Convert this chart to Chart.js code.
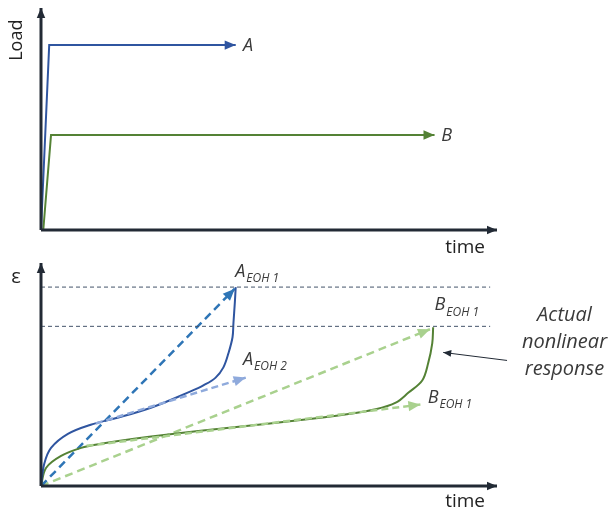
<!DOCTYPE html>
<html>
<head>
<meta charset="utf-8">
<script src="https://cdn.jsdelivr.net/npm/chart.js@4.4.0/dist/chart.umd.min.js"></script>
<style>
  html, body { margin: 0; padding: 0; background: #fff; }
  .panel { position: absolute; left: 0; width: 613px; }
  #top { top: 0; height: 255px; }
  #bottom { top: 255px; height: 256px; }
</style>
</head>
<body>
<div class="panel" id="top"><canvas id="loadChart"></canvas></div>
<div class="panel" id="bottom"><canvas id="strainChart"></canvas></div>
<script>
// both panels use time 0-100 and value 0-100 (axis arrow tips at 100)

// --- top panel: load histories ---
const loadA_t = [0, 1.8, 42.7];
const loadA_v = [0, 83.3, 83.3];
const loadB_t = [0.5, 2.2, 86.3];
const loadB_v = [0, 42.8, 42.8];

// --- bottom panel: strain responses ---
const levelA = 89.2;   // A_EOH 1 limit
const levelB = 71.6;   // B_EOH 1 limit
const levelEnd = 98.5;

const curveA_t = [0, 0.7, 2.2, 5.9, 10.9, 16.8, 24.1, 32.8, 35.7, 38.3, 40.0, 41.1, 42.0, 42.2, 42.5, 42.7];
const curveA_v = [0, 9.9, 17.1, 23.4, 27.5, 30.6, 35.1, 42.4, 45.2, 48.6, 53.2, 59.5, 66.7, 73.0, 82.0, 89.2];
const curveB_t = [0, 1.1, 4.4, 8.8, 13.1, 20.4, 35.0, 49.7, 61.3, 67.8, 73.4, 77.8, 80.6, 83.6, 84.9, 85.8, 86.0];
const curveB_v = [0, 8.1, 13.5, 17.1, 18.9, 21.2, 24.8, 27.9, 30.6, 32.4, 34.4, 37.4, 41.9, 47.3, 55.0, 64.0, 71.2];

const linA1_t = [0, 42.5];   const linA1_v = [0, 88.5];
const linA2_t = [12, 44.9];  const linA2_v = [28, 48.6];
const linB1_t = [0, 85.3];   const linB1_v = [0, 70.3];
const linB2_t = [10, 83.2];  const linB2_v = [18, 36.5];

const note_t = [102.2, 88.2];
const note_v = [56.3, 59.9];

const pts = (xs, ys) => xs.map((x, i) => ({ x, y: ys[i] }));

const AXIS = '#222a35';
const TEXT = '#3a3a3a';

// arrow heads at the last point of a dataset
const arrowHeads = {
  id: 'arrowHeads',
  afterDatasetsDraw(chart) {
    const ctx = chart.ctx;
    chart.data.datasets.forEach((ds, i) => {
      if (!ds.arrow) return;
      const p = chart.getDatasetMeta(i).data;
      const p1 = p[p.length - 2], p2 = p[p.length - 1];
      const a = Math.atan2(p2.y - p1.y, p2.x - p1.x);
      const L = ds.arrow, W = ds.arrow * 0.85;
      ctx.save();
      ctx.translate(p2.x, p2.y);
      ctx.rotate(a);
      ctx.beginPath();
      ctx.moveTo(0, 0);
      ctx.lineTo(-L, -W / 2);
      ctx.lineTo(-L, W / 2);
      ctx.closePath();
      ctx.fillStyle = ds.borderColor;
      ctx.fill();
      ctx.restore();
    });
  }
};

// text placed in data coordinates
const textLabels = {
  id: 'textLabels',
  afterDraw(chart, args, opts) {
    const ctx = chart.ctx;
    const xs = chart.scales.x, ys = chart.scales.y;
    (opts.items || []).forEach(it => {
      const px = xs.getPixelForValue(it.x);
      const py = ys.getPixelForValue(it.y);
      ctx.save();
      ctx.fillStyle = it.color || TEXT;
      ctx.font = it.font;
      ctx.textBaseline = 'middle';
      ctx.textAlign = it.align || 'left';
      ctx.translate(px, py);
      if (it.rotate) ctx.rotate(it.rotate);
      const lines = it.text.split('\n');
      lines.forEach((ln, k) => ctx.fillText(ln, 0, (k - (lines.length - 1) / 2) * (it.lineHeight || 0)));
      if (it.sub) {
        const w = ctx.measureText(it.text).width;
        ctx.font = it.subFont;
        ctx.textAlign = 'left';
        ctx.fillText(it.sub, w + 1, 7);
      }
      ctx.restore();
    });
  }
};

const baseOptions = (items) => ({
  responsive: true,
  maintainAspectRatio: false,
  animation: false,
  layout: { padding: { left: 41, right: 116, top: 8, bottom: 25 } },
  elements: { point: { radius: 0, hoverRadius: 0 } },
  plugins: {
    legend: { display: false },
    tooltip: { enabled: false },
    textLabels: { items }
  },
  scales: {
    x: { type: 'linear', min: 0, max: 100, display: false },
    y: { type: 'linear', min: 0, max: 100, display: false }
  }
});

const line = (data, color, width, extra) => Object.assign({
  data, borderColor: color, backgroundColor: color, borderWidth: width,
  showLine: true, fill: false, clip: false, tension: 0
}, extra || {});

const axes = () => [
  line(pts([0, 100], [0, 0]), AXIS, 3, { arrow: 10 }),
  line(pts([0, 0], [0, 100]), AXIS, 3, { arrow: 10 })
];

new Chart(document.getElementById('loadChart'), {
  type: 'scatter',
  data: {
    datasets: [
      ...axes(),
      line(pts(loadA_t, loadA_v), '#2f55a0', 2, { arrow: 11 }),
      line(pts(loadB_t, loadB_v), '#548235', 2, { arrow: 11 })
    ]
  },
  options: baseOptions([
    { text: 'Load', x: -5.3, y: 85.5, font: '18px "Open Sans"', align: 'center', rotate: -Math.PI / 2, color: '#222' },
    { text: 'time', x: 93.0, y: -8.1, font: '19px "Open Sans"', align: 'center', color: '#222' },
    { text: 'A', x: 44.3, y: 82.9, font: 'italic 18px "Open Sans"' },
    { text: 'B', x: 87.8, y: 42.6, font: 'italic 18px "Open Sans"' }
  ]),
  plugins: [arrowHeads, textLabels]
});

const SUB = 'italic 12px "Open Sans"';
const MAIN = 'italic 18px "Open Sans"';

new Chart(document.getElementById('strainChart'), {
  type: 'scatter',
  data: {
    datasets: [
      ...axes(),
      line(pts([0, levelEnd], [levelA, levelA]), '#44546a', 1, { borderDash: [4, 3] }),
      line(pts([0, levelEnd], [levelB, levelB]), '#44546a', 1, { borderDash: [4, 3] }),
      line(pts(linA2_t, linA2_v), '#8faadc', 2.5, { borderDash: [7, 4], arrow: 12 }),
      line(pts(linB2_t, linB2_v), '#a9d18e', 2.5, { borderDash: [7, 4], arrow: 12 }),
      line(pts(curveA_t, curveA_v), '#2f55a0', 2, { tension: 0.35 }),
      line(pts(curveB_t, curveB_v), '#548235', 2, { tension: 0.35 }),
      line(pts(linA1_t, linA1_v), '#2e75b6', 2.5, { borderDash: [8, 5], arrow: 12 }),
      line(pts(linB1_t, linB1_v), '#a9d18e', 2.5, { borderDash: [8, 5], arrow: 12 }),
      line(pts(note_t, note_v), AXIS, 1, { arrow: 8 })
    ]
  },
  options: baseOptions([
    { text: 'ε', x: -5.5, y: 93.5, font: '20px "Open Sans"', align: 'center', color: '#222' },
    { text: 'time', x: 93.0, y: -7.0, font: '19px "Open Sans"', align: 'center', color: '#222' },
    { text: 'A', sub: 'EOH 1', x: 42.6, y: 96.0, font: MAIN, subFont: SUB },
    { text: 'B', sub: 'EOH 1', x: 86.3, y: 81.0, font: MAIN, subFont: SUB },
    { text: 'A', sub: 'EOH 2', x: 44.3, y: 56.5, font: MAIN, subFont: SUB },
    { text: 'B', sub: 'EOH 1', x: 84.8, y: 39.5, font: MAIN, subFont: SUB },
    { text: 'Actual\nnonlinear\nresponse', x: 114.8, y: 64.5, font: 'italic 20px "Open Sans"', align: 'center', lineHeight: 27 }
  ]),
  plugins: [arrowHeads, textLabels]
});
</script>
</body>
</html>
